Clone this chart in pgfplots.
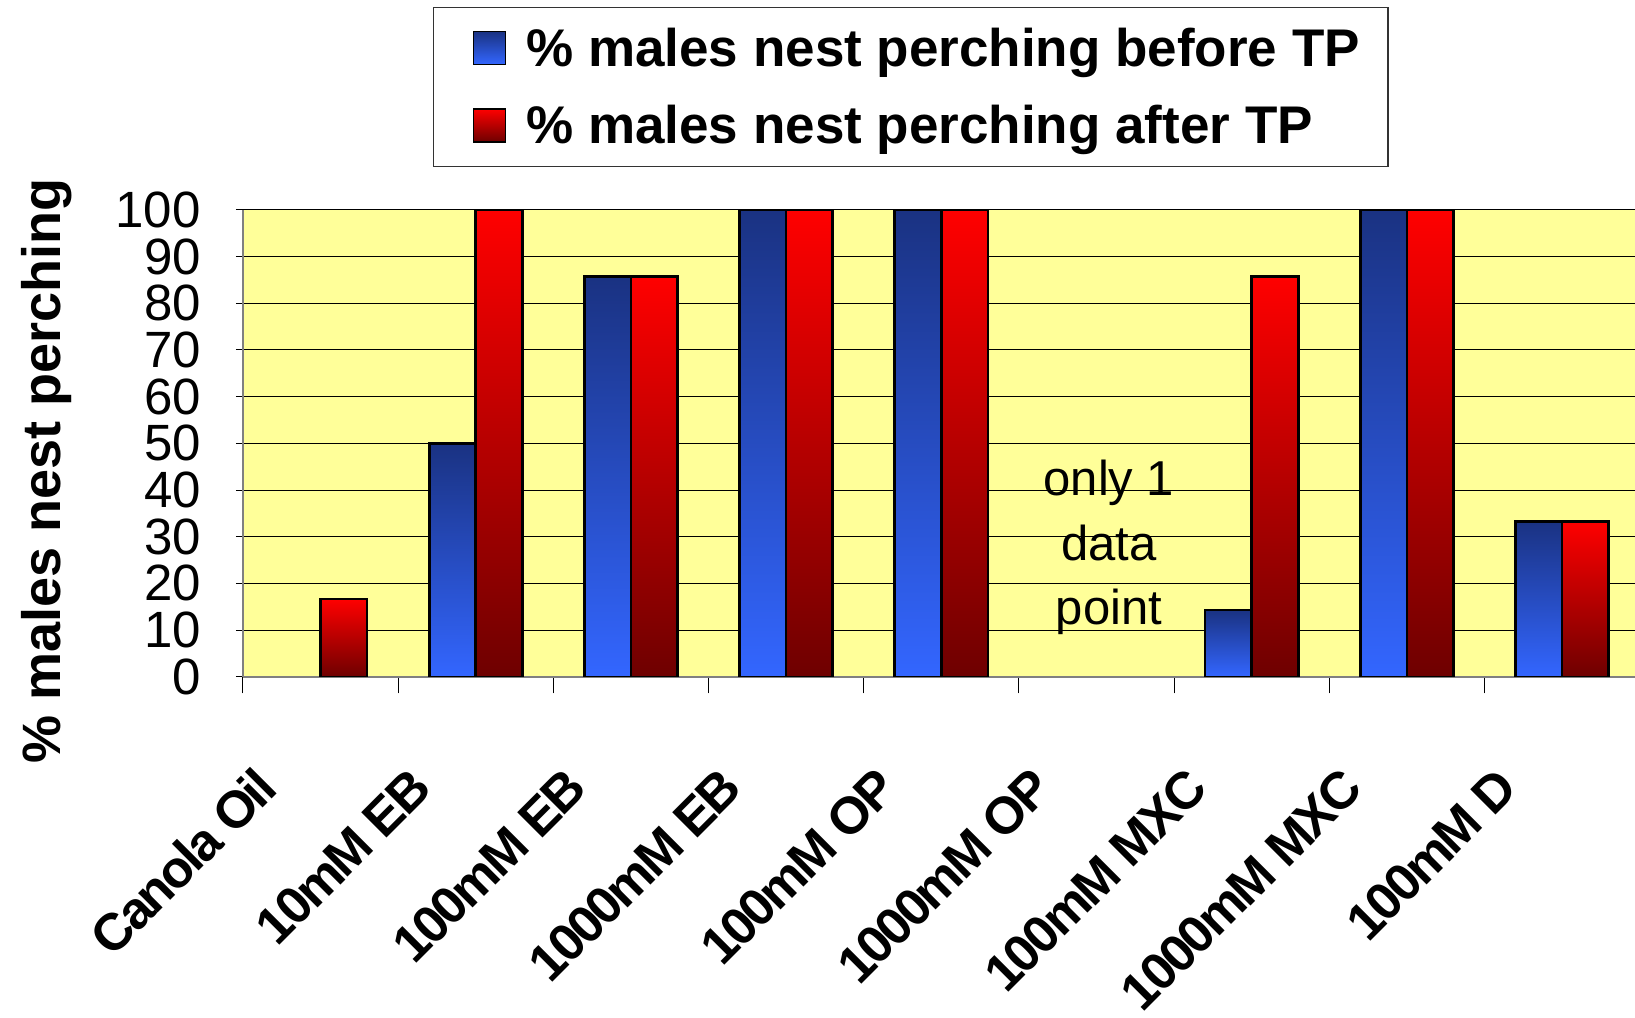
\documentclass[border=0pt]{standalone}
\usepackage{fontspec}
\setmainfont{Liberation Sans}
\usepackage{pgfplots}
\pgfplotsset{compat=1.18}
\definecolor{bgyellow}{HTML}{FFFF99}
\definecolor{bluetop}{HTML}{1A3282}
\definecolor{bluebot}{HTML}{3366FF}
\definecolor{redtop}{HTML}{FF0000}
\definecolor{redbot}{HTML}{6E0000}
\pgfplotsset{
  bbar/.style={ybar, bar width=0.3, bar shift=-0.15, draw=black, line width=1.3pt, top color=bluetop, bottom color=bluebot, forget plot},
  rbar/.style={ybar, bar width=0.3, bar shift=0.15, draw=black, line width=1.3pt, top color=redtop, bottom color=redbot, forget plot},
}
\begin{document}
\begin{tikzpicture}
\begin{axis}[
  scale only axis, width=696pt, height=233.5pt,
  xmin=-0.5, xmax=8.47, ymin=0, ymax=100,
  axis background/.style={fill=bgyellow},
  axis x line*=bottom, axis y line*=left,
  axis line style={draw=gray, line width=0.7pt},
  /pgf/number format/assume math mode=true,
  ytick={0,10,...,100},
  ymajorgrids, major grid style={black, line width=0.5pt},
  tick align=outside,
  major tick length=3.6pt,
  every tick/.style={black, line width=0.5pt},
  xtick={0,...,8},
  xticklabels={Canola Oil,10mM EB,100mM EB,1000mM EB,100mM OP,1000mM OP,100mM MXC,1000mM MXC,100mM D},
  minor xtick={-0.5,0.5,...,7.5},
  minor tick length=8.3pt,
  major x tick style={draw=none},
  yticklabel style={font=\fontsize{25.5}{25.5}\selectfont, xshift=-14pt},
  xticklabel style={font=\fontsize{26}{26}\bfseries\addfontfeatures{LetterSpace=-5}\selectfont, xshift=-27pt, yshift=-47pt, rotate=45, anchor=east, inner sep=0pt},
  ylabel={\% males nest perching},
  ylabel style={font=\fontsize{27}{27}\bfseries\selectfont, at={(axis description cs:-0.1408,0.4405)}, anchor=center},
  legend style={at={(axis description cs:0.1365,1.434)}, anchor=north west, draw=black!80, line width=0.6pt,
    font=\fontsize{26.5}{26.5}\bfseries\selectfont, legend cell align=left, inner xsep=12pt, inner ysep=8pt,
    row sep=14pt, /tikz/column sep=8pt},
]
\addlegendimage{legend image code/.code={\path[draw=none,fill=none] (0pt,0pt); \draw[black, line width=0.8pt, top color=bluetop, bottom color=bluebot] (8pt,-8pt) rectangle (24pt,8.5pt);}}
\addlegendentry{\% males nest perching before TP}
\addlegendimage{legend image code/.code={\path[draw=none,fill=none] (0pt,0pt); \draw[black, line width=0.8pt, top color=redtop, bottom color=redbot] (8pt,-8pt) rectangle (24pt,8.5pt);}}
\addlegendentry{\% males nest perching after TP}
% before TP
\addplot[bbar] coordinates {(1,50)};
\addplot[bbar] coordinates {(2,85.7)};
\addplot[bbar] coordinates {(3,100)};
\addplot[bbar] coordinates {(4,100)};
\addplot[bbar] coordinates {(6,14.3)};
\addplot[bbar] coordinates {(7,100)};
\addplot[bbar] coordinates {(8,33.3)};
% after TP
\addplot[rbar] coordinates {(0,16.7)};
\addplot[rbar] coordinates {(1,100)};
\addplot[rbar] coordinates {(2,85.7)};
\addplot[rbar] coordinates {(3,100)};
\addplot[rbar] coordinates {(4,100)};
\addplot[rbar] coordinates {(6,85.7)};
\addplot[rbar] coordinates {(7,100)};
\addplot[rbar] coordinates {(8,33.3)};
\node[align=center, font=\fontsize{24.5}{32.3}\selectfont] at (axis cs:5.08,27.7) {only 1\\data\\point};
\end{axis}
\pgfresetboundingbox
\path[use as bounding box] (-121.5pt,-170.2pt) rectangle (696pt,338.4pt);
\end{tikzpicture}
\end{document}
